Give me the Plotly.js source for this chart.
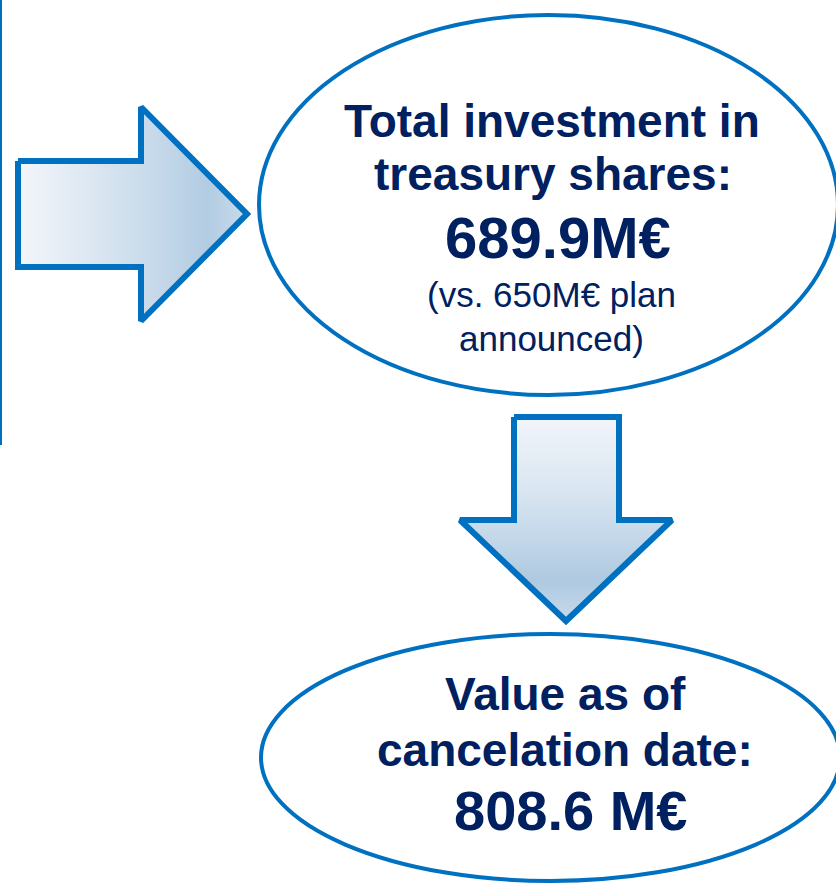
<!DOCTYPE html>
<html>
<head>
<meta charset="utf-8">
<script src="https://cdn.plot.ly/plotly-3.0.1.min.js"></script>
<style>
  html, body { margin: 0; padding: 0; background: #ffffff; }
  #chart { width: 836px; height: 885px; }
</style>
</head>
<body>
<div id="chart"></div>
<script>
// ---- values ----
const totalInvestment = 689.9;   // M€
const planAnnounced = 650;       // M€
const valueAtCancel = 808.6;     // M€

// ---- text lines ----
const topLines = ["Total investment in", "treasury shares:", totalInvestment.toFixed(1) + "M€",
                  "(vs. " + planAnnounced + "M€ plan", "announced)"];
const bottomLines = ["Value as of", "cancelation date:", valueAtCancel.toFixed(1) + " M€"];

// ---- diagram geometry (pixel space) ----
const rightArrowX = [18, 141, 141, 247, 141, 141, 18, 18];
const rightArrowY = [161, 161, 107, 214, 321, 267, 267, 161];
const downArrowX = [514, 619, 619, 672, 566, 460, 514, 514];
const downArrowY = [417, 417, 520, 520, 621, 520, 520, 417];
const topEllipse = [259, 15, 838, 395];     // x0, y0, x1, y1
const bottomEllipse = [261, 634, 840, 881];
const leftRuleX = [1, 1];
const leftRuleY = [0, 445];

const topTextX = [552, 553, 558, 551, 551];
const topTextY = [121, 174, 237, 294, 338];
const topTextSize = [46, 46, 58, 35, 35];
const topTextBold = [true, true, true, false, false];
const bottomTextX = [565, 565, 571];
const bottomTextY = [694, 750, 810];
const bottomTextSize = [46, 46, 56];

const BLUE = "#0070C0";
const NAVY = "#002060";
const FONT = "Liberation Sans, Arial, sans-serif";

const traces = [
  {
    x: rightArrowX, y: rightArrowY, type: "scatter", mode: "lines",
    fill: "toself", fillcolor: "#C8DAEA",
    fillgradient: {
      type: "horizontal",
      colorscale: [[0, "#F3F6FB"], [0.3, "#DDE8F2"], [0.6, "#C6D9EA"], [0.83, "#B2CCE2"], [1, "#C9DBEB"]]
    },
    line: { color: BLUE, width: 6 },
    hoverinfo: "skip", showlegend: false
  },
  {
    x: downArrowX, y: downArrowY, type: "scatter", mode: "lines",
    fill: "toself", fillcolor: "#C8DAEA",
    fillgradient: {
      type: "vertical", start: 417, stop: 621,
      colorscale: [[0, "#F2F5FA"], [0.35, "#DAE6F1"], [0.6, "#C3D7E9"], [0.8, "#AEC9E0"], [1, "#C8DAEA"]]
    },
    line: { color: BLUE, width: 6 },
    hoverinfo: "skip", showlegend: false
  },
  {
    x: leftRuleX, y: leftRuleY, type: "scatter", mode: "lines",
    line: { color: BLUE, width: 2 },
    hoverinfo: "skip", showlegend: false
  }
];

const shapes = [
  { type: "circle", xref: "x", yref: "y",
    x0: topEllipse[0], y0: topEllipse[1], x1: topEllipse[2], y1: topEllipse[3],
    line: { color: BLUE, width: 4 }, fillcolor: "#ffffff", layer: "above" },
  { type: "circle", xref: "x", yref: "y",
    x0: bottomEllipse[0], y0: bottomEllipse[1], x1: bottomEllipse[2], y1: bottomEllipse[3],
    line: { color: BLUE, width: 4 }, fillcolor: "#ffffff", layer: "above" }
];

const annotations = [];
topLines.forEach((t, i) => {
  annotations.push({
    text: topTextBold[i] ? "<b>" + t + "</b>" : t,
    x: topTextX[i], y: topTextY[i], xref: "x", yref: "y",
    xanchor: "center", yanchor: "middle", showarrow: false,
    font: { family: FONT, size: topTextSize[i], color: NAVY }
  });
});
bottomLines.forEach((t, i) => {
  annotations.push({
    text: "<b>" + t + "</b>",
    x: bottomTextX[i], y: bottomTextY[i], xref: "x", yref: "y",
    xanchor: "center", yanchor: "middle", showarrow: false,
    font: { family: FONT, size: bottomTextSize[i], color: NAVY }
  });
});

const layout = {
  width: 836, height: 885,
  margin: { l: 0, r: 0, t: 0, b: 0, pad: 0 },
  paper_bgcolor: "#ffffff", plot_bgcolor: "#ffffff",
  xaxis: { range: [0, 836], visible: false, fixedrange: true },
  yaxis: { range: [885, 0], visible: false, fixedrange: true },
  shapes: shapes,
  annotations: annotations,
  showlegend: false
};

Plotly.newPlot("chart", traces, layout, { displayModeBar: false, staticPlot: true });
</script>
</body>
</html>
